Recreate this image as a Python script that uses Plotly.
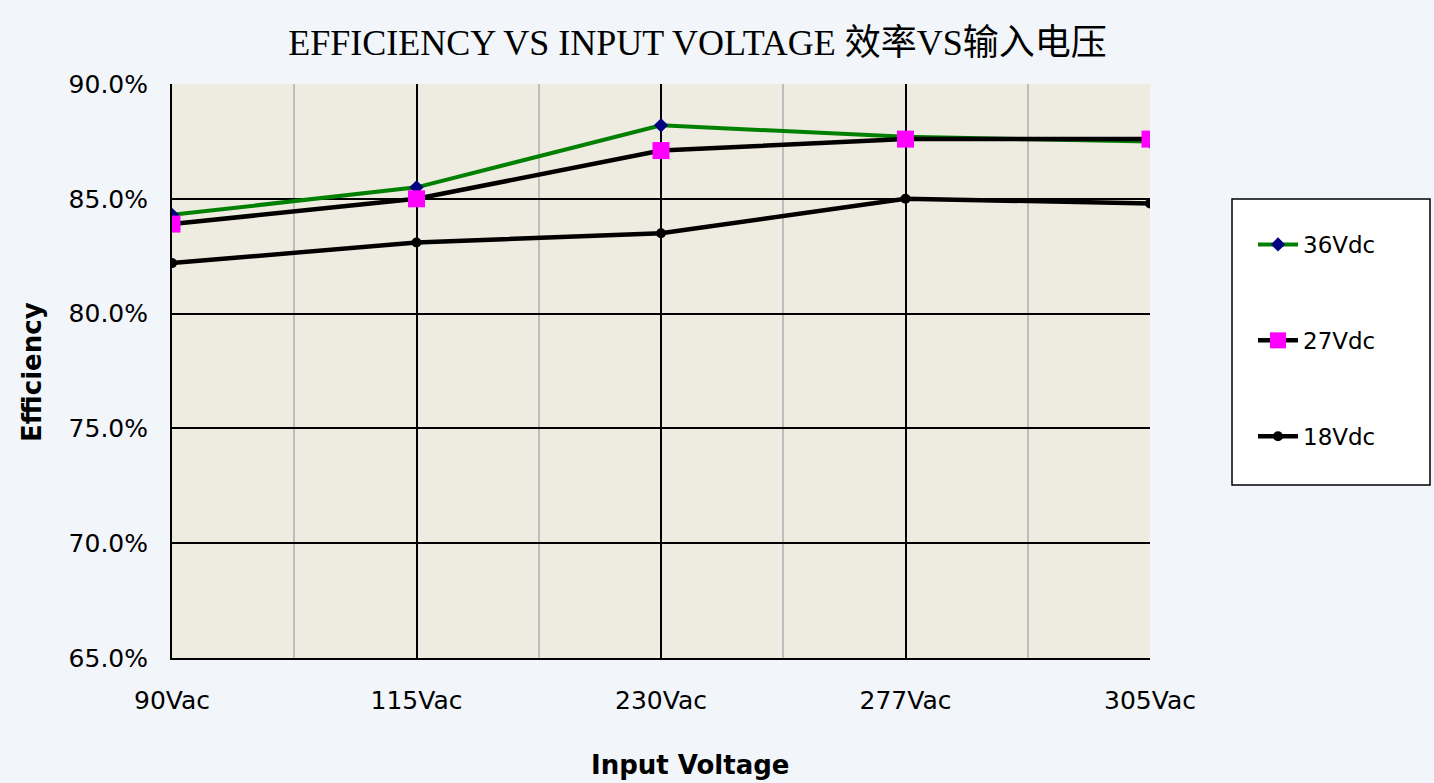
import plotly.graph_objects as go

categories = ["90Vac", "115Vac", "230Vac", "277Vac", "305Vac"]
v36 = [84.3, 85.5, 88.2, 87.7, 87.5]
v27 = [83.9, 85.0, 87.1, 87.6, 87.6]
v18 = [82.2, 83.1, 83.5, 85.0, 84.8]
yticks = [65, 70, 75, 80, 85, 90]

xs = list(range(len(categories)))

fig = go.Figure()
fig.add_trace(go.Scatter(x=xs, y=v36, name="36Vdc", mode="lines+markers",
                         line=dict(color="#008000", width=4),
                         marker=dict(symbol="diamond", color="#000080", size=11),
                         legendgroup="a"))
fig.add_trace(go.Scatter(x=xs, y=v27, name="27Vdc", mode="lines+markers",
                         line=dict(color="#000000", width=4.5),
                         marker=dict(symbol="square", color="#FF00FF", size=17),
                         legendgroup="b"))
fig.add_trace(go.Scatter(x=xs, y=v18, name="18Vdc", mode="lines+markers",
                         line=dict(color="#000000", width=4.5),
                         marker=dict(symbol="circle", color="#000000", size=10),
                         legendgroup="c"))

L, R, T, B = 172, 1150, 84, 658
W, H = 1434, 783
pw, ph = R - L, B - T
BG = "#F2F5FA"

def px_x(p):
    return (p - L) / pw

def px_y(p):
    return (B - p) / ph

fig.update_layout(
    width=W, height=H,
    margin=dict(l=L, r=W - R, t=T, b=H - B, pad=0),
    paper_bgcolor=BG,
    plot_bgcolor="#EEEBE0",
    font=dict(family="DejaVu Sans", color="#000000"),
    showlegend=True,
    title=dict(text="EFFICIENCY VS INPUT VOLTAGE 效率VS输入电压",
               font=dict(family="Liberation Serif, Noto Sans CJK SC", size=36, color="#000000"),
               x=(282 + 1113) / 2 / W, xanchor="center", y=1 - 42 / H, yanchor="middle"),
    legend=dict(x=px_x(1253), y=px_y(223), xanchor="left", yanchor="top",
                bgcolor="rgba(0,0,0,0)", borderwidth=0,
                font=dict(family="DejaVu Sans", size=23, color="#000000"),
                tracegroupgap=63, itemwidth=40),
    xaxis=dict(range=[0, len(categories) - 1], tickmode="array", tickvals=xs, ticktext=categories,
               showgrid=True, gridcolor="#000000", gridwidth=1.5,
               minor=dict(dtick=0.5, tick0=0, showgrid=True, gridcolor="#BDBDBD", gridwidth=1.5),
               showline=True, linecolor="#000000", linewidth=2, mirror=False,
               ticks="", ticklen=0, ticklabelstandoff=19, tickfont=dict(size=25), zeroline=False),
    yaxis=dict(range=[65, 90], tickmode="array", tickvals=yticks,
               ticktext=[f"{v:.1f}%" for v in yticks],
               showgrid=True, gridcolor="#000000", gridwidth=1.5,
               showline=True, linecolor="#000000", linewidth=2,
               ticks="", ticklen=0,
               ticklabelstandoff=17, tickfont=dict(size=25), zeroline=False),
    shapes=[dict(type="rect", xref="paper", yref="paper",
                 x0=px_x(1232), x1=px_x(1430), y0=px_y(485), y1=px_y(199),
                 line=dict(color="#000000", width=1.5), fillcolor="#FFFFFF", layer="below")],
    annotations=[
        dict(text="<b>Input Voltage</b>", xref="paper", yref="paper",
             x=px_x(690), y=px_y(765), xanchor="center", yanchor="middle",
             showarrow=False, font=dict(size=26)),
        dict(text="<b>Efficiency</b>", xref="paper", yref="paper",
             x=px_x(32), y=px_y(372), xanchor="center", yanchor="middle", textangle=-90,
             showarrow=False, font=dict(size=26)),
    ],
)

fig.write_html("out.html", config={"displayModeBar": False},
               post_script="document.body.style.margin='0';document.body.style.background='%s';" % BG)
